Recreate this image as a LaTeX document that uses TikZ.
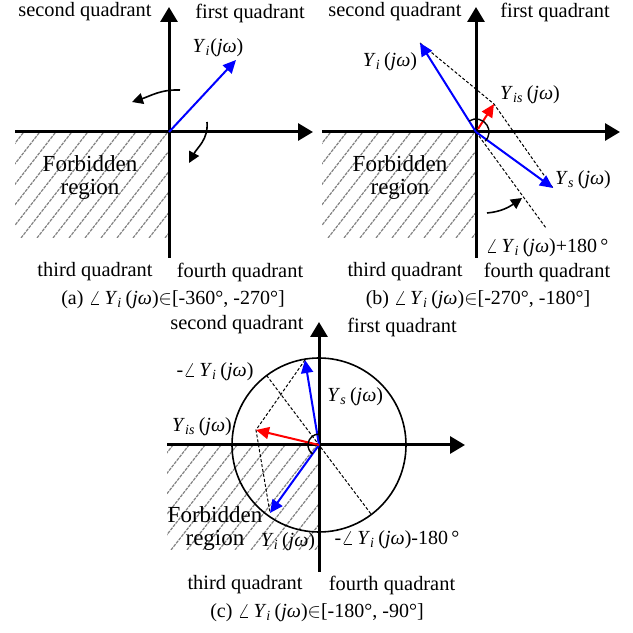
\documentclass[tikz,border=0pt]{standalone}
\usepackage{fontspec}
\setmainfont{Liberation Serif}
\usetikzlibrary{arrows.meta,positioning,calc}

\newcommand{\Yv}[1]{\textit{Y}\textsubscript{\textit{#1}}\,(\textit{jω})}
\newcommand{\forbidden}[2]{%
  \begin{scope}
    \clip (-#1,-#2) rectangle (0,0);
    \foreach \k in {-260,-244,...,0}
      \draw[hatchline] (\k,-#2) -- ++(52:180);
  \end{scope}}

\tikzset{
  axisline/.style={line width=1.5pt,-{Triangle[length=7.5pt,width=8.5pt]}},
  bluevec/.style={blue,line width=1pt,-{Triangle[length=6.5pt,width=6pt]}},
  redvec/.style={red,line width=1pt,-{Triangle[length=6.5pt,width=6pt]}},
  dashline/.style={line width=0.5pt,dash pattern=on 1.5pt off 1pt},
  turnarrow/.style={line width=0.8pt,-{Triangle[length=5.5pt,width=5.5pt]}},
  hatchline/.style={black!50,line width=0.6pt,dash pattern=on 1.6pt off 0.5pt},
  lbl/.style={font=\fontsize{10}{12}\selectfont,inner sep=0pt},
  quad/.style={font=\fontsize{10.2}{12}\selectfont,inner sep=0pt},
  forb/.style={font=\fontsize{11.5}{11.5}\selectfont,inner sep=0pt,align=center},
}

\begin{document}
\begin{tikzpicture}[x=0.5pt,y=0.5pt]
  \useasboundingbox (0,0) rectangle (633,633);

  % (a) first case
  \begin{scope}[shift={(169,501)}]
    \forbidden{154}{106}
    \node[forb] (aforb) at (-79,-46) {Forbidden\\region};
    \coordinate (ao) at (0,0);
    \coordinate (aw) at (-154,0);
    \coordinate (ae) at (144,0);
    \coordinate (as) at (0,-126);
    \coordinate (an) at (0,125);
    \draw[axisline] (aw) -- (ae);
    \draw[axisline] (as) -- (an);

    % vector
    \coordinate (ayi) at (67,72);
    \draw[bluevec] (ao) -- (ayi);
    \node[lbl] (ayil) at (49,84) {\textit{Y}\textsubscript{\textit{i}}(\textit{jω})};

    % turning arrows
    \draw[turnarrow] (11,42) to[out=178,in=18] (-37,30);
    \draw[turnarrow] (38,10) to[out=-85,in=62] (20,-31);

    \node[quad] (aq2) at (-84,120) {second quadrant};
    \node[quad] (aq1) at (81,119) {first quadrant};
    \node[quad] (aq3) at (-74,-140) {third quadrant};
    \node[quad] (aq4) at (71,-140) {fourth quadrant};
    \node[lbl] (acap) at (4,-168) {(a) $\angle$\,\Yv{i}$\in$[-360°, -270°]};
  \end{scope}

  % (b) second case
  \begin{scope}[shift={(476,501)}]
    \forbidden{154}{106}
    \node[forb] (bforb) at (-76,-46) {Forbidden\\region};
    \coordinate (bo) at (0,0);
    \coordinate (bw) at (-154,0);
    \coordinate (be) at (144,0);
    \coordinate (bs) at (0,-126);
    \coordinate (bn) at (0,125);
    \draw[axisline] (bw) -- (be);
    \draw[axisline] (bs) -- (bn);

    % vectors
    \coordinate (byi) at (-56,89);
    \coordinate (bys) at (77,-56);
    \coordinate (byis) at (18,28);
    \coordinate (bext) at (70,-96);
    \draw[dashline] (byi) -- (byis) -- (bys);
    \draw[dashline] (bo) -- (bext);
    \draw[bluevec] (bo) -- (byi);
    \draw[bluevec] (bo) -- (bys);
    \draw[redvec] (2,3) -- (byis);
    \draw[line width=0.7pt] (122:13) arc[start angle=122,end angle=-45,radius=13];
    \draw[turnarrow] (11,-81) to[out=5,in=215] (46,-66);

    \node[lbl] (byil) at (-86,70) {\Yv{i}};
    \node[lbl] (byisl) at (54,37) {\Yv{is}};
    \node[lbl] (bysl) at (107,-48) {\Yv{s}};
    \node[lbl] (bextl) at (71,-116) {$\angle$\,\Yv{i}+180\,°};

    \node[quad] (bq2) at (-81,120) {second quadrant};
    \node[quad] (bq1) at (79,120) {first quadrant};
    \node[quad] (bq3) at (-71,-140) {third quadrant};
    \node[quad] (bq4) at (71,-140) {fourth quadrant};
    \node[lbl] (bcap) at (2,-168) {(b) $\angle$\,\Yv{i}$\in$[-270°, -180°]};
  \end{scope}

  % (c) third case
  \begin{scope}[shift={(319,188)}]
    \forbidden{152}{105}
    \node[forb] (cforb) at (-104,-84) {Forbidden\\region};
    \coordinate (co) at (0,0);
    \coordinate (cw) at (-152,0);
    \coordinate (ce) at (146,0);
    \coordinate (cs) at (0,-127);
    \coordinate (cn) at (0,123);
    \draw[axisline] (cw) -- (ce);
    \draw[axisline] (cs) -- (cn);
    \draw[line width=0.8pt] (co) circle[radius=87];

    % vectors
    \coordinate (cys) at (-14,85);
    \coordinate (cyi) at (-49,-68);
    \coordinate (cyis) at (-63,15);
    \coordinate (cd1) at (127:87);
    \coordinate (cd2) at (-53:87);
    \draw[dashline] (cys) -- (cyis) -- (cyi);
    \draw[dashline] (cd1) -- (cd2);
    \draw[bluevec] (co) -- (cys);
    \draw[bluevec] (co) -- (cyi);
    \draw[redvec] (co) -- (cyis);
    \draw[line width=0.7pt] (85:11) arc[start angle=85,end angle=235,radius=11];

    \node[lbl] (cnegl) at (-104,73) {-$\angle$\,\Yv{i}};
    \node[lbl,anchor=west] (cysl) at (8,48) {\Yv{s}};
    \node[lbl] (cyisl) at (-117,18) {\Yv{is}};
    \node[lbl] (cyil) at (-31,-97) {\Yv{i}};
    \node[lbl] (cd2l) at (78,-95) {-$\angle$\,\Yv{i}-180\,°};

    \node[quad] (cq2) at (-82,120) {second quadrant};
    \node[quad] (cq1) at (83,118) {first quadrant};
    \node[quad] (cq3) at (-74,-140) {third quadrant};
    \node[quad] (cq4) at (73,-140) {fourth quadrant};
    \node[lbl] (ccap) at (-2,-168) {(c) $\angle$\,\Yv{i}$\in$[-180°, -90°]};
  \end{scope}
\end{tikzpicture}
\end{document}
